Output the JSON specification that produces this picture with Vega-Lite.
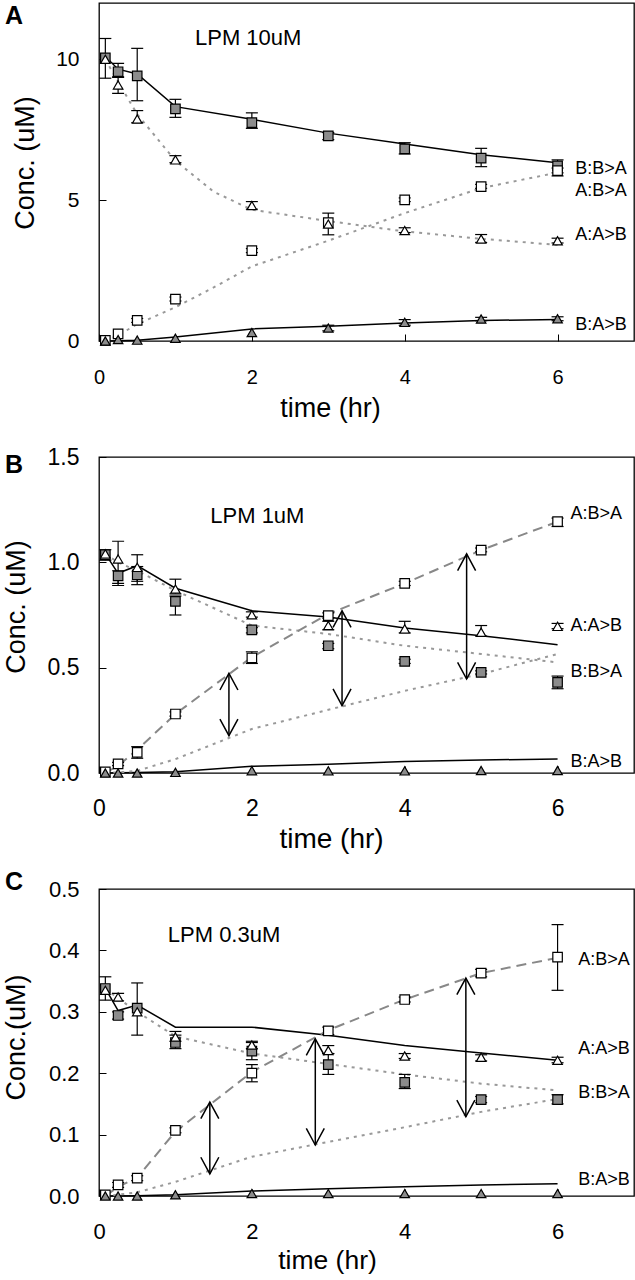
{
"$schema":"https://vega.github.io/schema/vega-lite/v6.json",
"background":"white",
"padding":{"left":1,"top":2,"right":0,"bottom":0},
"autosize":{"type":"pad"},
"bounds":"flush",
"spacing":116,
"config":{
 "view":{"stroke":"black","strokeWidth":1.3},
 "font":"Liberation Sans",
 "style":{"guide-title":{"fontWeight":"normal"},"guide-label":{"fontWeight":"normal"}},
 "axis":{"domain":false,"grid":false,"ticks":true,"tickSize":-7,"tickColor":"black","tickWidth":1,"labelFont":"Liberation Sans","labelColor":"black","titleFont":"Liberation Sans","titleColor":"black","titleFontWeight":"normal"}
},
"resolve":{"scale":{"x":"independent","y":"independent"}},
"datasets":{
"pts":[
{"panel":"A","s":"BBA","t":0.083,"v":10.05},{"panel":"A","s":"BBA","t":0.25,"v":9.56},{"panel":"A","s":"BBA","t":0.5,"v":9.41},{"panel":"A","s":"BBA","t":1,"v":8.24},{"panel":"A","s":"BBA","t":2,"v":7.75},{"panel":"A","s":"BBA","t":3,"v":7.28},{"panel":"A","s":"BBA","t":4,"v":6.82},{"panel":"A","s":"BBA","t":5,"v":6.49},{"panel":"A","s":"BBA","t":6,"v":6.22},
{"panel":"A","s":"ABA","t":0.083,"v":0.02},{"panel":"A","s":"ABA","t":0.25,"v":0.25},{"panel":"A","s":"ABA","t":0.5,"v":0.73},{"panel":"A","s":"ABA","t":1,"v":1.49},{"panel":"A","s":"ABA","t":2,"v":3.21},{"panel":"A","s":"ABA","t":3,"v":4.2},{"panel":"A","s":"ABA","t":4,"v":5.01},{"panel":"A","s":"ABA","t":5,"v":5.48},{"panel":"A","s":"ABA","t":6,"v":6.05},
{"panel":"A","s":"AAB","t":0.083,"v":10.0},{"panel":"A","s":"AAB","t":0.25,"v":9.09},{"panel":"A","s":"AAB","t":0.5,"v":7.88},{"panel":"A","s":"AAB","t":1,"v":6.43},{"panel":"A","s":"AAB","t":2,"v":4.81},{"panel":"A","s":"AAB","t":3,"v":4.15},{"panel":"A","s":"AAB","t":4,"v":3.92},{"panel":"A","s":"AAB","t":5,"v":3.62},{"panel":"A","s":"AAB","t":6,"v":3.56},
{"panel":"A","s":"BAB","t":0.083,"v":0.0},{"panel":"A","s":"BAB","t":0.25,"v":0.05},{"panel":"A","s":"BAB","t":0.5,"v":0.03},{"panel":"A","s":"BAB","t":1,"v":0.1},{"panel":"A","s":"BAB","t":2,"v":0.3},{"panel":"A","s":"BAB","t":3,"v":0.46},{"panel":"A","s":"BAB","t":4,"v":0.66},{"panel":"A","s":"BAB","t":5,"v":0.78},{"panel":"A","s":"BAB","t":6,"v":0.79},
{"panel":"B","s":"BBA","t":0.083,"v":1.036},{"panel":"B","s":"BBA","t":0.25,"v":0.936},{"panel":"B","s":"BBA","t":0.5,"v":0.941},{"panel":"B","s":"BBA","t":1,"v":0.815},{"panel":"B","s":"BBA","t":2,"v":0.679},{"panel":"B","s":"BBA","t":3,"v":0.604},{"panel":"B","s":"BBA","t":4,"v":0.53},{"panel":"B","s":"BBA","t":5,"v":0.478},{"panel":"B","s":"BBA","t":6,"v":0.43},
{"panel":"B","s":"ABA","t":0.083,"v":0.005},{"panel":"B","s":"ABA","t":0.25,"v":0.043},{"panel":"B","s":"ABA","t":0.5,"v":0.098},{"panel":"B","s":"ABA","t":1,"v":0.28},{"panel":"B","s":"ABA","t":2,"v":0.546},{"panel":"B","s":"ABA","t":3,"v":0.747},{"panel":"B","s":"ABA","t":4,"v":0.9},{"panel":"B","s":"ABA","t":5,"v":1.058},{"panel":"B","s":"ABA","t":6,"v":1.193},
{"panel":"B","s":"AAB","t":0.083,"v":1.04},{"panel":"B","s":"AAB","t":0.25,"v":1.016},{"panel":"B","s":"AAB","t":0.5,"v":0.976},{"panel":"B","s":"AAB","t":1,"v":0.873},{"panel":"B","s":"AAB","t":2,"v":0.751},{"panel":"B","s":"AAB","t":3,"v":0.7},{"panel":"B","s":"AAB","t":4,"v":0.684},{"panel":"B","s":"AAB","t":5,"v":0.668},{"panel":"B","s":"AAB","t":6,"v":0.696},
{"panel":"B","s":"BAB","t":0.083,"v":0.0},{"panel":"B","s":"BAB","t":0.25,"v":0.0},{"panel":"B","s":"BAB","t":0.5,"v":0.0},{"panel":"B","s":"BAB","t":1,"v":0.003},{"panel":"B","s":"BAB","t":2,"v":0.011},{"panel":"B","s":"BAB","t":3,"v":0.01},{"panel":"B","s":"BAB","t":4,"v":0.01},{"panel":"B","s":"BAB","t":5,"v":0.012},{"panel":"B","s":"BAB","t":6,"v":0.012},
{"panel":"C","s":"BBA","t":0.083,"v":0.338},{"panel":"C","s":"BBA","t":0.25,"v":0.294},{"panel":"C","s":"BBA","t":0.5,"v":0.306},{"panel":"C","s":"BBA","t":1,"v":0.25},{"panel":"C","s":"BBA","t":2,"v":0.236},{"panel":"C","s":"BBA","t":3,"v":0.214},{"panel":"C","s":"BBA","t":4,"v":0.185},{"panel":"C","s":"BBA","t":5,"v":0.157},{"panel":"C","s":"BBA","t":6,"v":0.157},
{"panel":"C","s":"ABA","t":0.083,"v":0.002},{"panel":"C","s":"ABA","t":0.25,"v":0.018},{"panel":"C","s":"ABA","t":0.5,"v":0.029},{"panel":"C","s":"ABA","t":1,"v":0.107},{"panel":"C","s":"ABA","t":2,"v":0.2},{"panel":"C","s":"ABA","t":3,"v":0.269},{"panel":"C","s":"ABA","t":4,"v":0.32},{"panel":"C","s":"ABA","t":5,"v":0.363},{"panel":"C","s":"ABA","t":6,"v":0.389},
{"panel":"C","s":"AAB","t":0.083,"v":0.335},{"panel":"C","s":"AAB","t":0.25,"v":0.324},{"panel":"C","s":"AAB","t":0.5,"v":0.3},{"panel":"C","s":"AAB","t":1,"v":0.259},{"panel":"C","s":"AAB","t":2,"v":0.246},{"panel":"C","s":"AAB","t":3,"v":0.237},{"panel":"C","s":"AAB","t":4,"v":0.228},{"panel":"C","s":"AAB","t":5,"v":0.226},{"panel":"C","s":"AAB","t":6,"v":0.221},
{"panel":"C","s":"BAB","t":0.083,"v":0.0},{"panel":"C","s":"BAB","t":0.25,"v":0.0},{"panel":"C","s":"BAB","t":0.5,"v":0.0},{"panel":"C","s":"BAB","t":1,"v":0.002},{"panel":"C","s":"BAB","t":2,"v":0.004},{"panel":"C","s":"BAB","t":3,"v":0.004},{"panel":"C","s":"BAB","t":4,"v":0.004},{"panel":"C","s":"BAB","t":5,"v":0.004},{"panel":"C","s":"BAB","t":6,"v":0.004}
],
"err":[
{"panel":"A","t":0.083,"lo":9.33,"hi":10.74},{"panel":"A","t":0.25,"lo":9.38,"hi":9.86},{"panel":"A","t":0.5,"lo":8.53,"hi":10.39},{"panel":"A","t":1,"lo":7.94,"hi":8.58},{"panel":"A","t":2,"lo":7.55,"hi":8.1},{"panel":"A","t":3,"lo":7.15,"hi":7.4},{"panel":"A","t":4,"lo":6.64,"hi":7.04},{"panel":"A","t":5,"lo":6.19,"hi":6.84},{"panel":"A","t":6,"lo":5.86,"hi":6.43},
{"panel":"A","t":0.25,"lo":8.79,"hi":9.36},{"panel":"A","t":0.5,"lo":7.75,"hi":8.18},{"panel":"A","t":1,"lo":6.33,"hi":6.58},{"panel":"A","t":2,"lo":4.68,"hi":4.95},{"panel":"A","t":3,"lo":3.77,"hi":4.54},{"panel":"A","t":4,"lo":3.85,"hi":4.02},{"panel":"A","t":5,"lo":3.5,"hi":3.78},{"panel":"A","t":6,"lo":3.48,"hi":3.65},
{"panel":"A","t":0.5,"lo":0.66,"hi":0.8},{"panel":"A","t":1,"lo":1.42,"hi":1.56},{"panel":"A","t":2,"lo":3.14,"hi":3.28},{"panel":"A","t":4,"lo":4.95,"hi":5.08},{"panel":"A","t":5,"lo":5.42,"hi":5.56},{"panel":"A","t":6,"lo":5.97,"hi":6.14},
{"panel":"A","t":3,"lo":0.36,"hi":0.56},{"panel":"A","t":4,"lo":0.56,"hi":0.76},{"panel":"A","t":5,"lo":0.72,"hi":0.84},{"panel":"A","t":6,"lo":0.72,"hi":0.86},
{"panel":"B","t":0.083,"lo":1.01,"hi":1.06},{"panel":"B","t":0.25,"lo":0.9,"hi":0.96},{"panel":"B","t":0.5,"lo":0.91,"hi":0.98},{"panel":"B","t":1,"lo":0.75,"hi":0.84},{"panel":"B","t":2,"lo":0.665,"hi":0.69},{"panel":"B","t":3,"lo":0.59,"hi":0.615},{"panel":"B","t":4,"lo":0.52,"hi":0.54},{"panel":"B","t":5,"lo":0.47,"hi":0.485},{"panel":"B","t":6,"lo":0.4,"hi":0.46},
{"panel":"B","t":0.25,"lo":0.89,"hi":1.1},{"panel":"B","t":0.5,"lo":0.894,"hi":1.036},{"panel":"B","t":1,"lo":0.85,"hi":0.92},{"panel":"B","t":2,"lo":0.74,"hi":0.765},{"panel":"B","t":3,"lo":0.68,"hi":0.72},{"panel":"B","t":4,"lo":0.665,"hi":0.72},{"panel":"B","t":5,"lo":0.65,"hi":0.7},{"panel":"B","t":6,"lo":0.685,"hi":0.71},
{"panel":"B","t":0.25,"lo":0.035,"hi":0.05},{"panel":"B","t":0.5,"lo":0.07,"hi":0.125},{"panel":"B","t":1,"lo":0.27,"hi":0.29},{"panel":"B","t":2,"lo":0.52,"hi":0.575},{"panel":"B","t":3,"lo":0.735,"hi":0.76},{"panel":"B","t":4,"lo":0.89,"hi":0.91},{"panel":"B","t":5,"lo":1.05,"hi":1.068},{"panel":"B","t":6,"lo":1.17,"hi":1.21},
{"panel":"C","t":0.083,"lo":0.319,"hi":0.357},{"panel":"C","t":0.25,"lo":0.288,"hi":0.3},{"panel":"C","t":0.5,"lo":0.262,"hi":0.347},{"panel":"C","t":1,"lo":0.24,"hi":0.262},{"panel":"C","t":2,"lo":0.222,"hi":0.25},{"panel":"C","t":3,"lo":0.198,"hi":0.232},{"panel":"C","t":4,"lo":0.175,"hi":0.198},{"panel":"C","t":5,"lo":0.152,"hi":0.162},{"panel":"C","t":6,"lo":0.15,"hi":0.165},
{"panel":"C","t":0.25,"lo":0.318,"hi":0.33},{"panel":"C","t":1,"lo":0.252,"hi":0.268},{"panel":"C","t":2,"lo":0.24,"hi":0.252},{"panel":"C","t":3,"lo":0.232,"hi":0.245},{"panel":"C","t":4,"lo":0.224,"hi":0.232},{"panel":"C","t":5,"lo":0.22,"hi":0.23},{"panel":"C","t":6,"lo":0.217,"hi":0.226},
{"panel":"C","t":0.25,"lo":0.014,"hi":0.022},{"panel":"C","t":0.5,"lo":0.025,"hi":0.033},{"panel":"C","t":1,"lo":0.103,"hi":0.111},{"panel":"C","t":2,"lo":0.186,"hi":0.214},{"panel":"C","t":3,"lo":0.263,"hi":0.275},{"panel":"C","t":4,"lo":0.316,"hi":0.324},{"panel":"C","t":5,"lo":0.357,"hi":0.369},{"panel":"C","t":6,"lo":0.335,"hi":0.442}
],
"fit":[
{"panel":"A","curve":"BBA","t":0.083,"v":10.1},{"panel":"A","curve":"BBA","t":0.25,"v":9.65},{"panel":"A","curve":"BBA","t":0.5,"v":9.48},{"panel":"A","curve":"BBA","t":1,"v":8.32},{"panel":"A","curve":"BBA","t":2,"v":7.87},{"panel":"A","curve":"BBA","t":3,"v":7.38},{"panel":"A","curve":"BBA","t":4,"v":6.99},{"panel":"A","curve":"BBA","t":5,"v":6.61},{"panel":"A","curve":"BBA","t":6,"v":6.33},
{"panel":"A","curve":"AAB","t":0.083,"v":10.0},{"panel":"A","curve":"AAB","t":0.25,"v":9.2},{"panel":"A","curve":"AAB","t":0.5,"v":8.05},{"panel":"A","curve":"AAB","t":1,"v":6.4},{"panel":"A","curve":"AAB","t":1.5,"v":5.3},{"panel":"A","curve":"AAB","t":2,"v":4.66},{"panel":"A","curve":"AAB","t":3,"v":4.26},{"panel":"A","curve":"AAB","t":4,"v":3.89},{"panel":"A","curve":"AAB","t":5,"v":3.63},{"panel":"A","curve":"AAB","t":6,"v":3.41},
{"panel":"A","curve":"ABA","t":0.083,"v":0.0},{"panel":"A","curve":"ABA","t":0.25,"v":0.2},{"panel":"A","curve":"ABA","t":0.5,"v":0.6},{"panel":"A","curve":"ABA","t":1,"v":1.2},{"panel":"A","curve":"ABA","t":1.5,"v":1.9},{"panel":"A","curve":"ABA","t":2,"v":2.65},{"panel":"A","curve":"ABA","t":3,"v":3.56},{"panel":"A","curve":"ABA","t":4,"v":4.54},{"panel":"A","curve":"ABA","t":5,"v":5.43},{"panel":"A","curve":"ABA","t":6,"v":5.98},
{"panel":"A","curve":"BAB","t":0.083,"v":0.0},{"panel":"A","curve":"BAB","t":0.25,"v":0.01},{"panel":"A","curve":"BAB","t":0.5,"v":0.03},{"panel":"A","curve":"BAB","t":1,"v":0.14},{"panel":"A","curve":"BAB","t":2,"v":0.43},{"panel":"A","curve":"BAB","t":3,"v":0.52},{"panel":"A","curve":"BAB","t":4,"v":0.64},{"panel":"A","curve":"BAB","t":5,"v":0.73},{"panel":"A","curve":"BAB","t":6,"v":0.76},
{"panel":"B","curve":"AAB","t":0.083,"v":1.04},{"panel":"B","curve":"AAB","t":0.25,"v":0.948},{"panel":"B","curve":"AAB","t":0.5,"v":0.984},{"panel":"B","curve":"AAB","t":1,"v":0.877},{"panel":"B","curve":"AAB","t":2,"v":0.77},{"panel":"B","curve":"AAB","t":3,"v":0.74},{"panel":"B","curve":"AAB","t":4,"v":0.688},{"panel":"B","curve":"AAB","t":5,"v":0.652},{"panel":"B","curve":"AAB","t":6,"v":0.609},
{"panel":"B","curve":"BAB","t":0.083,"v":0.0},{"panel":"B","curve":"BAB","t":0.5,"v":0.002},{"panel":"B","curve":"BAB","t":1,"v":0.006},{"panel":"B","curve":"BAB","t":2,"v":0.032},{"panel":"B","curve":"BAB","t":3,"v":0.042},{"panel":"B","curve":"BAB","t":4,"v":0.054},{"panel":"B","curve":"BAB","t":5,"v":0.062},{"panel":"B","curve":"BAB","t":6,"v":0.066},
{"panel":"B","curve":"BBA","t":0.083,"v":1.04},{"panel":"B","curve":"BBA","t":0.25,"v":1.0},{"panel":"B","curve":"BBA","t":0.5,"v":0.96},{"panel":"B","curve":"BBA","t":1,"v":0.866},{"panel":"B","curve":"BBA","t":2,"v":0.7},{"panel":"B","curve":"BBA","t":3,"v":0.66},{"panel":"B","curve":"BBA","t":4,"v":0.604},{"panel":"B","curve":"BBA","t":5,"v":0.565},{"panel":"B","curve":"BBA","t":6,"v":0.525},
{"panel":"B","curve":"ABA0","t":0.083,"v":0.0},{"panel":"B","curve":"ABA0","t":0.25,"v":0.003},{"panel":"B","curve":"ABA0","t":0.5,"v":0.01},{"panel":"B","curve":"ABA0","t":1,"v":0.066},{"panel":"B","curve":"ABA0","t":2,"v":0.209},{"panel":"B","curve":"ABA0","t":3,"v":0.3},{"panel":"B","curve":"ABA0","t":4,"v":0.39},{"panel":"B","curve":"ABA0","t":5,"v":0.47},{"panel":"B","curve":"ABA0","t":6,"v":0.565},
{"panel":"B","curve":"ABA","t":0.083,"v":0.0},{"panel":"B","curve":"ABA","t":0.25,"v":0.035},{"panel":"B","curve":"ABA","t":0.5,"v":0.11},{"panel":"B","curve":"ABA","t":1,"v":0.28},{"panel":"B","curve":"ABA","t":2,"v":0.55},{"panel":"B","curve":"ABA","t":3,"v":0.755},{"panel":"B","curve":"ABA","t":4,"v":0.9},{"panel":"B","curve":"ABA","t":5,"v":1.058},{"panel":"B","curve":"ABA","t":6,"v":1.193},
{"panel":"C","curve":"AAB","t":0.083,"v":0.338},{"panel":"C","curve":"AAB","t":0.25,"v":0.302},{"panel":"C","curve":"AAB","t":0.5,"v":0.311},{"panel":"C","curve":"AAB","t":1,"v":0.275},{"panel":"C","curve":"AAB","t":2,"v":0.275},{"panel":"C","curve":"AAB","t":3,"v":0.262},{"panel":"C","curve":"AAB","t":4,"v":0.245},{"panel":"C","curve":"AAB","t":5,"v":0.233},{"panel":"C","curve":"AAB","t":6,"v":0.221},
{"panel":"C","curve":"BAB","t":0.083,"v":0.0},{"panel":"C","curve":"BAB","t":0.5,"v":0.0005},{"panel":"C","curve":"BAB","t":1,"v":0.002},{"panel":"C","curve":"BAB","t":2,"v":0.008},{"panel":"C","curve":"BAB","t":3,"v":0.012},{"panel":"C","curve":"BAB","t":4,"v":0.015},{"panel":"C","curve":"BAB","t":5,"v":0.018},{"panel":"C","curve":"BAB","t":6,"v":0.02},
{"panel":"C","curve":"BBA","t":0.083,"v":0.338},{"panel":"C","curve":"BBA","t":0.25,"v":0.322},{"panel":"C","curve":"BBA","t":0.5,"v":0.3},{"panel":"C","curve":"BBA","t":1,"v":0.26},{"panel":"C","curve":"BBA","t":2,"v":0.232},{"panel":"C","curve":"BBA","t":3,"v":0.215},{"panel":"C","curve":"BBA","t":4,"v":0.198},{"panel":"C","curve":"BBA","t":5,"v":0.183},{"panel":"C","curve":"BBA","t":6,"v":0.172},
{"panel":"C","curve":"ABA0","t":0.083,"v":0.0},{"panel":"C","curve":"ABA0","t":0.25,"v":0.002},{"panel":"C","curve":"ABA0","t":0.5,"v":0.006},{"panel":"C","curve":"ABA0","t":1,"v":0.023},{"panel":"C","curve":"ABA0","t":2,"v":0.064},{"panel":"C","curve":"ABA0","t":3,"v":0.088},{"panel":"C","curve":"ABA0","t":4,"v":0.112},{"panel":"C","curve":"ABA0","t":5,"v":0.137},{"panel":"C","curve":"ABA0","t":6,"v":0.158},
{"panel":"C","curve":"ABA","t":0.083,"v":0.0},{"panel":"C","curve":"ABA","t":0.25,"v":0.015},{"panel":"C","curve":"ABA","t":0.5,"v":0.03},{"panel":"C","curve":"ABA","t":1,"v":0.105},{"panel":"C","curve":"ABA","t":2,"v":0.202},{"panel":"C","curve":"ABA","t":3,"v":0.27},{"panel":"C","curve":"ABA","t":4,"v":0.32},{"panel":"C","curve":"ABA","t":5,"v":0.363},{"panel":"C","curve":"ABA","t":6,"v":0.388}
],
"arr":[
{"panel":"B","t":1.7,"top":0.473,"bot":0.177},{"panel":"B","t":3.18,"top":0.77,"bot":0.32},{"panel":"B","t":4.81,"top":1.04,"bot":0.446},
{"panel":"C","t":1.45,"top":0.153,"bot":0.036},{"panel":"C","t":2.83,"top":0.256,"bot":0.083},{"panel":"C","t":4.8,"top":0.355,"bot":0.129}
],
"lab":[
{"panel":"A","kind":"series","t":6.23,"v":6.11,"text":"B:B>A"},{"panel":"A","kind":"series","t":6.23,"v":5.31,"text":"A:B>A"},{"panel":"A","kind":"series","t":6.23,"v":3.77,"text":"A:A>B"},{"panel":"A","kind":"series","t":6.23,"v":0.58,"text":"B:A>B"},
{"panel":"A","kind":"conc","t":1.256,"v":10.76,"text":"LPM 10uM"},{"panel":"A","kind":"letter","t":-1.23,"v":11.55,"text":"A"},
{"panel":"B","kind":"series","t":6.17,"v":1.23,"text":"A:B>A"},{"panel":"B","kind":"series","t":6.17,"v":0.696,"text":"A:A>B"},{"panel":"B","kind":"series","t":6.17,"v":0.478,"text":"B:B>A"},{"panel":"B","kind":"series","t":6.17,"v":0.051,"text":"B:A>B"},
{"panel":"B","kind":"conc","t":1.456,"v":1.221,"text":"LPM 1uM"},{"panel":"B","kind":"letter","t":-1.23,"v":1.462,"text":"B"},
{"panel":"C","kind":"series","t":6.27,"v":0.385,"text":"A:B>A"},{"panel":"C","kind":"series","t":6.27,"v":0.24,"text":"A:A>B"},{"panel":"C","kind":"series","t":6.27,"v":0.168,"text":"B:B>A"},{"panel":"C","kind":"series","t":6.27,"v":0.026,"text":"B:A>B"},
{"panel":"C","kind":"conc","t":0.9,"v":0.4246,"text":"LPM 0.3uM"},{"panel":"C","kind":"letter","t":-1.23,"v":0.511,"text":"C"}
]
},
"vconcat":[
{
"width":535,"height":338,
"layer":[
{"data":{"name":"fit"},"transform":[{"filter":"datum.panel==='A' && (datum.curve==='BBA' || datum.curve==='BAB')"}],
 "mark":{"type":"line","color":"black","strokeWidth":1.5},
 "encoding":{
  "x":{"field":"t","type":"quantitative","scale":{"domain":[0,7],"nice":false},"axis":{"values":[0,2,4,6],"format":"d","title":"time (hr)","titleFontSize":27,"titleFontWeight":"normal","titleX":231,"titleY":75,"titleBaseline":"alphabetic","labelFontSize":20,"labelBaseline":"alphabetic","labelPadding":49,"labelFlush":false}},
  "y":{"field":"v","type":"quantitative","scale":{"domain":[0,12],"nice":false},"axis":{"values":[0,5,10],"format":"d","title":"Conc. (uM)","titleFontSize":27,"titleFontWeight":"normal","titleX":-60,"titleY":159.5,"titleBaseline":"bottom","labelFontSize":21,"labelPadding":27}},
  "detail":{"field":"curve"}}},
{"data":{"name":"fit"},"transform":[{"filter":"datum.panel==='A' && (datum.curve==='AAB' || datum.curve==='ABA')"}],
 "mark":{"type":"line","color":"#999999","strokeWidth":2,"strokeDash":[3,5]},
 "encoding":{"x":{"field":"t","type":"quantitative"},"y":{"field":"v","type":"quantitative"},"detail":{"field":"curve"}}},
{"data":{"name":"err"},"transform":[{"filter":"datum.panel==='A'"}],
 "mark":{"type":"rule","color":"black","strokeWidth":1.2},
 "encoding":{"x":{"field":"t","type":"quantitative"},"y":{"field":"lo","type":"quantitative"},"y2":{"field":"hi"}}},
{"data":{"name":"err"},"transform":[{"filter":"datum.panel==='A'"}],
 "mark":{"type":"tick","orient":"horizontal","color":"black","size":12,"thickness":1.2,"opacity":1},
 "encoding":{"x":{"field":"t","type":"quantitative"},"y":{"field":"lo","type":"quantitative"}}},
{"data":{"name":"err"},"transform":[{"filter":"datum.panel==='A'"}],
 "mark":{"type":"tick","orient":"horizontal","color":"black","size":12,"thickness":1.2,"opacity":1},
 "encoding":{"x":{"field":"t","type":"quantitative"},"y":{"field":"hi","type":"quantitative"}}},
{"data":{"name":"pts"},"transform":[{"filter":"datum.panel==='A'"}],
 "mark":{"type":"point","filled":true,"stroke":"black","strokeWidth":1.2,"opacity":1},
 "encoding":{"x":{"field":"t","type":"quantitative"},"y":{"field":"v","type":"quantitative"},
  "shape":{"field":"s","type":"nominal","scale":{"domain":["BBA","ABA","AAB","BAB"],"range":["square","square","triangle-up","triangle-up"]},"legend":null},
  "fill":{"field":"s","type":"nominal","scale":{"domain":["BBA","ABA","AAB","BAB"],"range":["#8c8c8c","#ffffff","#ffffff","#8c8c8c"]},"legend":null},
  "size":{"field":"s","type":"nominal","scale":{"domain":["BBA","ABA","AAB","BAB"],"range":[90,90,110,110]},"legend":null}}},
{"data":{"name":"lab"},"transform":[{"filter":"datum.panel==='A' && datum.kind==='series'"}],
 "mark":{"type":"text","align":"left","baseline":"middle","fontSize":18,"font":"Liberation Sans","color":"black"},
 "encoding":{"x":{"field":"t","type":"quantitative"},"y":{"field":"v","type":"quantitative"},"text":{"field":"text"}}},
{"data":{"name":"lab"},"transform":[{"filter":"datum.panel==='A' && datum.kind==='conc'"}],
 "mark":{"type":"text","align":"left","baseline":"middle","fontSize":22,"font":"Liberation Sans","color":"black"},
 "encoding":{"x":{"field":"t","type":"quantitative"},"y":{"field":"v","type":"quantitative"},"text":{"field":"text"}}},
{"data":{"name":"lab"},"transform":[{"filter":"datum.panel==='A' && datum.kind==='letter'"}],
 "mark":{"type":"text","align":"left","baseline":"middle","fontSize":25,"fontWeight":"bold","font":"Liberation Sans","color":"black","clip":false},
 "encoding":{"x":{"field":"t","type":"quantitative"},"y":{"field":"v","type":"quantitative"},"text":{"field":"text"}}}
]
},
{
"width":535,"height":316,
"layer":[
{"data":{"name":"fit"},"transform":[{"filter":"datum.panel==='B' && (datum.curve==='AAB' || datum.curve==='BAB')"}],
 "mark":{"type":"line","color":"black","strokeWidth":1.5},
 "encoding":{
  "x":{"field":"t","type":"quantitative","scale":{"domain":[0,7],"nice":false},"axis":{"values":[0,2,4,6],"format":"d","title":"time (hr)","titleFontSize":28,"titleFontWeight":"normal","titleX":232,"titleY":74,"titleBaseline":"alphabetic","labelFontSize":23,"labelBaseline":"alphabetic","labelPadding":49.7,"labelFlush":false}},
  "y":{"field":"v","type":"quantitative","scale":{"domain":[0,1.5],"nice":false},"axis":{"values":[0,0.5,1,1.5],"format":".1f","title":"Conc. (uM)","titleFontSize":27,"titleFontWeight":"normal","titleX":-69,"titleY":149.5,"titleBaseline":"bottom","labelFontSize":23,"labelPadding":27}},
  "detail":{"field":"curve"}}},
{"data":{"name":"fit"},"transform":[{"filter":"datum.panel==='B' && (datum.curve==='BBA' || datum.curve==='ABA0')"}],
 "mark":{"type":"line","color":"#999999","strokeWidth":2,"strokeDash":[3,5]},
 "encoding":{"x":{"field":"t","type":"quantitative"},"y":{"field":"v","type":"quantitative"},"detail":{"field":"curve"}}},
{"data":{"name":"fit"},"transform":[{"filter":"datum.panel==='B' && datum.curve==='ABA'"}],
 "mark":{"type":"line","color":"#888888","strokeWidth":2,"strokeDash":[10,6]},
 "encoding":{"x":{"field":"t","type":"quantitative"},"y":{"field":"v","type":"quantitative"}}},
{"data":{"name":"err"},"transform":[{"filter":"datum.panel==='B'"}],
 "mark":{"type":"rule","color":"black","strokeWidth":1.2},
 "encoding":{"x":{"field":"t","type":"quantitative"},"y":{"field":"lo","type":"quantitative"},"y2":{"field":"hi"}}},
{"data":{"name":"err"},"transform":[{"filter":"datum.panel==='B'"}],
 "mark":{"type":"tick","orient":"horizontal","color":"black","size":12,"thickness":1.2,"opacity":1},
 "encoding":{"x":{"field":"t","type":"quantitative"},"y":{"field":"lo","type":"quantitative"}}},
{"data":{"name":"err"},"transform":[{"filter":"datum.panel==='B'"}],
 "mark":{"type":"tick","orient":"horizontal","color":"black","size":12,"thickness":1.2,"opacity":1},
 "encoding":{"x":{"field":"t","type":"quantitative"},"y":{"field":"hi","type":"quantitative"}}},
{"data":{"name":"pts"},"transform":[{"filter":"datum.panel==='B'"}],
 "mark":{"type":"point","filled":true,"stroke":"black","strokeWidth":1.2,"opacity":1},
 "encoding":{"x":{"field":"t","type":"quantitative"},"y":{"field":"v","type":"quantitative"},
  "shape":{"field":"s","type":"nominal","scale":{"domain":["BBA","ABA","AAB","BAB"],"range":["square","square","triangle-up","triangle-up"]},"legend":null},
  "fill":{"field":"s","type":"nominal","scale":{"domain":["BBA","ABA","AAB","BAB"],"range":["#8c8c8c","#ffffff","#ffffff","#8c8c8c"]},"legend":null},
  "size":{"field":"s","type":"nominal","scale":{"domain":["BBA","ABA","AAB","BAB"],"range":[90,90,110,110]},"legend":null}}},
{"data":{"name":"arr"},"transform":[{"filter":"datum.panel==='B'"}],
 "mark":{"type":"rule","color":"black","strokeWidth":1.5},
 "encoding":{"x":{"field":"t","type":"quantitative"},"y":{"field":"top","type":"quantitative"},"y2":{"field":"bot"}}},
{"data":{"name":"arr"},"transform":[{"filter":"datum.panel==='B'"}],
 "mark":{"type":"point","shape":"M-1,1.85L0,0L1,1.85","filled":false,"stroke":"black","strokeWidth":1.5,"size":324,"opacity":1},
 "encoding":{"x":{"field":"t","type":"quantitative"},"y":{"field":"top","type":"quantitative"}}},
{"data":{"name":"arr"},"transform":[{"filter":"datum.panel==='B'"}],
 "mark":{"type":"point","shape":"M-1,-1.85L0,0L1,-1.85","filled":false,"stroke":"black","strokeWidth":1.5,"size":324,"opacity":1},
 "encoding":{"x":{"field":"t","type":"quantitative"},"y":{"field":"bot","type":"quantitative"}}},
{"data":{"name":"lab"},"transform":[{"filter":"datum.panel==='B' && datum.kind==='series'"}],
 "mark":{"type":"text","align":"left","baseline":"middle","fontSize":18,"font":"Liberation Sans","color":"black"},
 "encoding":{"x":{"field":"t","type":"quantitative"},"y":{"field":"v","type":"quantitative"},"text":{"field":"text"}}},
{"data":{"name":"lab"},"transform":[{"filter":"datum.panel==='B' && datum.kind==='conc'"}],
 "mark":{"type":"text","align":"left","baseline":"middle","fontSize":22,"font":"Liberation Sans","color":"black"},
 "encoding":{"x":{"field":"t","type":"quantitative"},"y":{"field":"v","type":"quantitative"},"text":{"field":"text"}}},
{"data":{"name":"lab"},"transform":[{"filter":"datum.panel==='B' && datum.kind==='letter'"}],
 "mark":{"type":"text","align":"left","baseline":"middle","fontSize":25,"fontWeight":"bold","font":"Liberation Sans","color":"black","clip":false},
 "encoding":{"x":{"field":"t","type":"quantitative"},"y":{"field":"v","type":"quantitative"},"text":{"field":"text"}}}
]
},
{
"width":535,"height":307,
"layer":[
{"data":{"name":"fit"},"transform":[{"filter":"datum.panel==='C' && (datum.curve==='AAB' || datum.curve==='BAB')"}],
 "mark":{"type":"line","color":"black","strokeWidth":1.5},
 "encoding":{
  "x":{"field":"t","type":"quantitative","scale":{"domain":[0,7],"nice":false},"axis":{"values":[0,2,4,6],"format":"d","title":"time (hr)","titleFontSize":26.5,"titleFontWeight":"normal","titleX":228,"titleY":72,"titleBaseline":"alphabetic","labelFontSize":22,"labelBaseline":"alphabetic","labelPadding":49.7,"labelFlush":false}},
  "y":{"field":"v","type":"quantitative","scale":{"domain":[0,0.5],"nice":false},"axis":{"values":[0,0.1,0.2,0.3,0.4,0.5],"format":".1f","title":"Conc.(uM)","titleFontSize":27,"titleFontWeight":"normal","titleX":-69,"titleY":148,"titleBaseline":"bottom","labelFontSize":22,"labelPadding":27}},
  "detail":{"field":"curve"}}},
{"data":{"name":"fit"},"transform":[{"filter":"datum.panel==='C' && (datum.curve==='BBA' || datum.curve==='ABA0')"}],
 "mark":{"type":"line","color":"#999999","strokeWidth":2,"strokeDash":[3,5]},
 "encoding":{"x":{"field":"t","type":"quantitative"},"y":{"field":"v","type":"quantitative"},"detail":{"field":"curve"}}},
{"data":{"name":"fit"},"transform":[{"filter":"datum.panel==='C' && datum.curve==='ABA'"}],
 "mark":{"type":"line","color":"#888888","strokeWidth":2,"strokeDash":[10,6]},
 "encoding":{"x":{"field":"t","type":"quantitative"},"y":{"field":"v","type":"quantitative"}}},
{"data":{"name":"err"},"transform":[{"filter":"datum.panel==='C'"}],
 "mark":{"type":"rule","color":"black","strokeWidth":1.2},
 "encoding":{"x":{"field":"t","type":"quantitative"},"y":{"field":"lo","type":"quantitative"},"y2":{"field":"hi"}}},
{"data":{"name":"err"},"transform":[{"filter":"datum.panel==='C'"}],
 "mark":{"type":"tick","orient":"horizontal","color":"black","size":12,"thickness":1.2,"opacity":1},
 "encoding":{"x":{"field":"t","type":"quantitative"},"y":{"field":"lo","type":"quantitative"}}},
{"data":{"name":"err"},"transform":[{"filter":"datum.panel==='C'"}],
 "mark":{"type":"tick","orient":"horizontal","color":"black","size":12,"thickness":1.2,"opacity":1},
 "encoding":{"x":{"field":"t","type":"quantitative"},"y":{"field":"hi","type":"quantitative"}}},
{"data":{"name":"pts"},"transform":[{"filter":"datum.panel==='C'"}],
 "mark":{"type":"point","filled":true,"stroke":"black","strokeWidth":1.2,"opacity":1},
 "encoding":{"x":{"field":"t","type":"quantitative"},"y":{"field":"v","type":"quantitative"},
  "shape":{"field":"s","type":"nominal","scale":{"domain":["BBA","ABA","AAB","BAB"],"range":["square","square","triangle-up","triangle-up"]},"legend":null},
  "fill":{"field":"s","type":"nominal","scale":{"domain":["BBA","ABA","AAB","BAB"],"range":["#8c8c8c","#ffffff","#ffffff","#8c8c8c"]},"legend":null},
  "size":{"field":"s","type":"nominal","scale":{"domain":["BBA","ABA","AAB","BAB"],"range":[90,90,110,110]},"legend":null}}},
{"data":{"name":"arr"},"transform":[{"filter":"datum.panel==='C'"}],
 "mark":{"type":"rule","color":"black","strokeWidth":1.5},
 "encoding":{"x":{"field":"t","type":"quantitative"},"y":{"field":"top","type":"quantitative"},"y2":{"field":"bot"}}},
{"data":{"name":"arr"},"transform":[{"filter":"datum.panel==='C'"}],
 "mark":{"type":"point","shape":"M-1,1.85L0,0L1,1.85","filled":false,"stroke":"black","strokeWidth":1.5,"size":324,"opacity":1},
 "encoding":{"x":{"field":"t","type":"quantitative"},"y":{"field":"top","type":"quantitative"}}},
{"data":{"name":"arr"},"transform":[{"filter":"datum.panel==='C'"}],
 "mark":{"type":"point","shape":"M-1,-1.85L0,0L1,-1.85","filled":false,"stroke":"black","strokeWidth":1.5,"size":324,"opacity":1},
 "encoding":{"x":{"field":"t","type":"quantitative"},"y":{"field":"bot","type":"quantitative"}}},
{"data":{"name":"lab"},"transform":[{"filter":"datum.panel==='C' && datum.kind==='series'"}],
 "mark":{"type":"text","align":"left","baseline":"middle","fontSize":18,"font":"Liberation Sans","color":"black"},
 "encoding":{"x":{"field":"t","type":"quantitative"},"y":{"field":"v","type":"quantitative"},"text":{"field":"text"}}},
{"data":{"name":"lab"},"transform":[{"filter":"datum.panel==='C' && datum.kind==='conc'"}],
 "mark":{"type":"text","align":"left","baseline":"middle","fontSize":22,"font":"Liberation Sans","color":"black"},
 "encoding":{"x":{"field":"t","type":"quantitative"},"y":{"field":"v","type":"quantitative"},"text":{"field":"text"}}},
{"data":{"name":"lab"},"transform":[{"filter":"datum.panel==='C' && datum.kind==='letter'"}],
 "mark":{"type":"text","align":"left","baseline":"middle","fontSize":25,"fontWeight":"bold","font":"Liberation Sans","color":"black","clip":false},
 "encoding":{"x":{"field":"t","type":"quantitative"},"y":{"field":"v","type":"quantitative"},"text":{"field":"text"}}}
]
}
]
}
